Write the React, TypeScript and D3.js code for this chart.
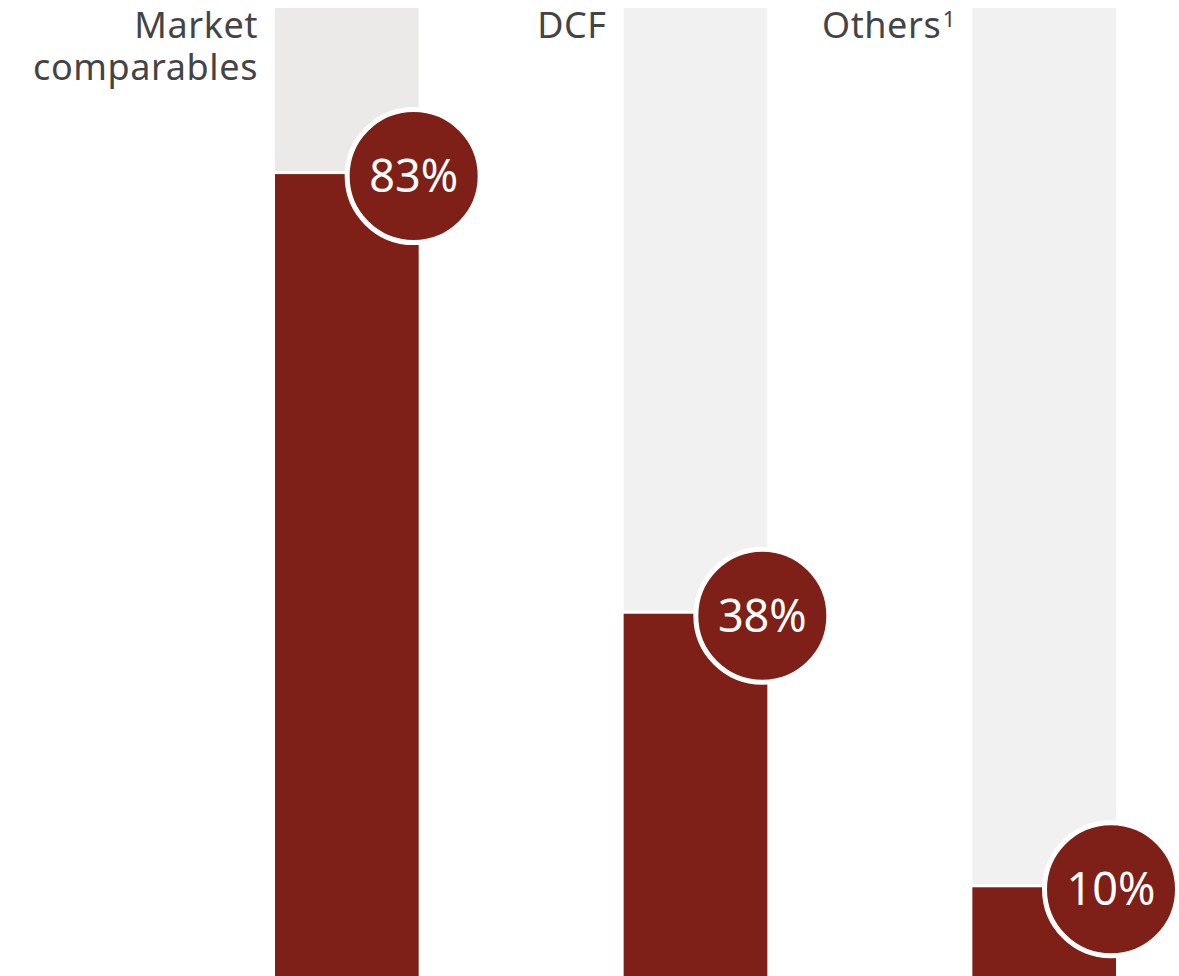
import React from 'react'
import * as d3 from 'd3'

const categories = ['Market comparables', 'DCF', 'Others']
const labelLines = [['Market', 'comparables'], ['DCF'], ['Others']]
const footnotes = ['', '', '1']
const shares = [0.83, 0.38, 0.10]
const trackColors = ['#ebeae8', '#f1f1f1', '#f1f1f1']

const W = 1179
const H = 976
const RED = '#7f2018'
const FONT = '"Noto Sans", Lato, sans-serif'

export default function App() {
  const x = d3.scaleBand<string>()
    .domain(categories)
    .range([275, 1116])
    .paddingInner(0.588)
    .paddingOuter(0)
  const y = d3.scaleLinear().domain([0, 1]).range([985, 8])

  return (
    <svg width={W} height={H} style={{ position: 'absolute', left: 0, top: 0 }}>
      <rect width={W} height={H} fill="#fff" />
      {categories.map((c, i) => {
        const x0 = x(c) as number
        const bw = x.bandwidth()
        const yTop = y(shares[i])
        const cx = x0 + bw - 5
        const hasNote = !!footnotes[i]
        return (
          <g key={c}>
            <rect x={x0} y={y(1)} width={bw} height={y(0) - y(1)} fill={trackColors[i]} />
            <rect x={x0} y={yTop - 3} width={bw} height={3} fill="#fff" />
            <rect x={x0} y={yTop} width={bw} height={y(0) - yTop} fill={RED} />
            <circle cx={cx} cy={yTop + 2} r={66.5} fill={RED} stroke="#fff" strokeWidth={5} />
            <text x={cx} y={yTop + 18} textAnchor="middle" fill="#fff"
              fontFamily={FONT} fontSize={45}>
              {Math.round(shares[i] * 100)}%
            </text>
            <text textAnchor="end" fill="#444" fontFamily={FONT} fontSize={36} letterSpacing={0.6}>
              {labelLines[i].map((ln, j) => (
                <tspan key={j} x={x0 - 17 - (hasNote ? 14 : 0)} y={38 + j * 42}>{ln}</tspan>
              ))}
            </text>
            {hasNote && (
              <text x={x0 - 17} y={27} textAnchor="end" fill="#444" fontFamily={FONT} fontSize={22}>
                {footnotes[i]}
              </text>
            )}
          </g>
        )
      })}
    </svg>
  )
}
